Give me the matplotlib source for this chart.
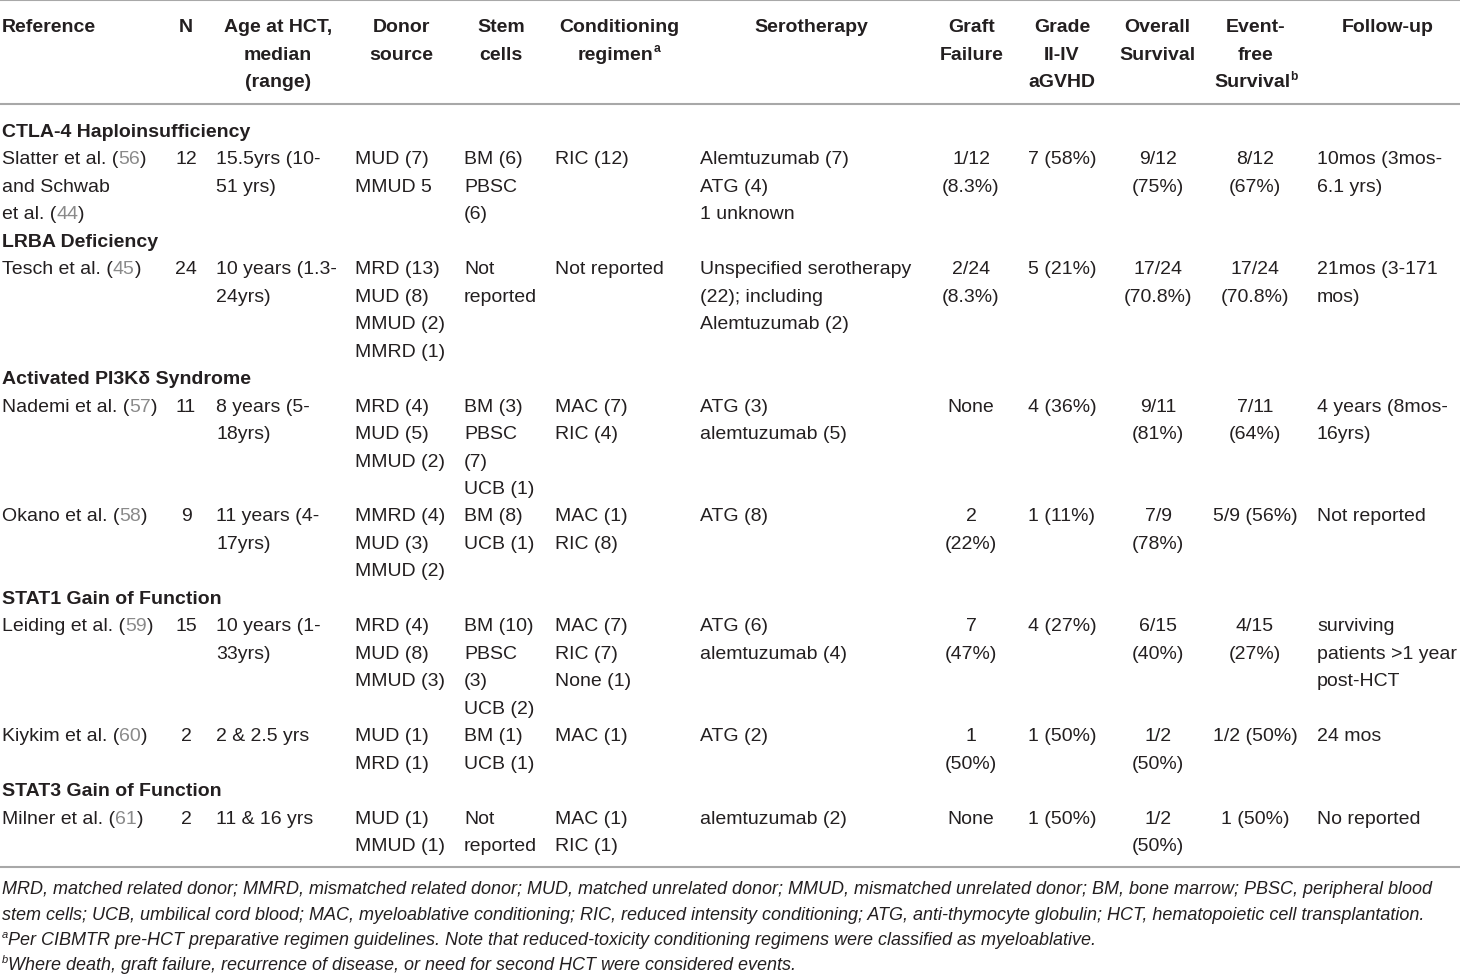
import matplotlib
matplotlib.use("Agg")
import matplotlib.pyplot as plt

# ---------------- data ----------------
header_lines = [
    ["Reference"],
    ["N"],
    ["Age at HCT,", "median", "(range)"],
    ["Donor", "source"],
    ["Stem", "cells"],
    ["Conditioning", "regimen^a"],
    ["Serotherapy"],
    ["Graft", "Failure"],
    ["Grade", "II-IV", "aGVHD"],
    ["Overall", "Survival"],
    ["Event-", "free", "Survival^b"],
    ["Follow-up"],
]

group_names = [
    "CTLA-4 Haploinsufficiency",
    "LRBA Deficiency",
    "Activated PI3K\u03b4 Syndrome",
    "STAT1 Gain of Function",
    "STAT3 Gain of Function",
]
study_group = [0, 1, 2, 2, 3, 3, 4]

references = [
    ["Slatter et al. ({56})", "and Schwab", "et al. ({44})"],
    ["Tesch et al. ({45})"],
    ["Nademi et al. ({57})"],
    ["Okano et al. ({58})"],
    ["Leiding et al. ({59})"],
    ["Kiykim et al. ({60})"],
    ["Milner et al. ({61})"],
]
n_patients = ["12", "24", "11", "9", "15", "2", "2"]
age = [["15.5yrs (10-", "51 yrs)"], ["10 years (1.3-", "24yrs)"], ["8 years (5-", "18yrs)"],
       ["11 years (4-", "17yrs)"], ["10 years (1-", "33yrs)"], ["2 & 2.5 yrs"], ["11 & 16 yrs"]]
donor = [["MUD (7)", "MMUD 5"], ["MRD (13)", "MUD (8)", "MMUD (2)", "MMRD (1)"],
         ["MRD (4)", "MUD (5)", "MMUD (2)"], ["MMRD (4)", "MUD (3)", "MMUD (2)"],
         ["MRD (4)", "MUD (8)", "MMUD (3)"], ["MUD (1)", "MRD (1)"], ["MUD (1)", "MMUD (1)"]]
stem_cells = [["BM (6)", "PBSC", "(6)"], ["Not", "reported"], ["BM (3)", "PBSC", "(7)", "UCB (1)"],
              ["BM (8)", "UCB (1)"], ["BM (10)", "PBSC", "(3)", "UCB (2)"], ["BM (1)", "UCB (1)"],
              ["Not", "reported"]]
conditioning = [["RIC (12)"], ["Not reported"], ["MAC (7)", "RIC (4)"], ["MAC (1)", "RIC (8)"],
                ["MAC (7)", "RIC (7)", "None (1)"], ["MAC (1)"], ["MAC (1)", "RIC (1)"]]
serotherapy = [["Alemtuzumab (7)", "ATG (4)", "1 unknown"],
               ["Unspecified serotherapy", "(22); including", "Alemtuzumab (2)"],
               ["ATG (3)", "alemtuzumab (5)"], ["ATG (8)"], ["ATG (6)", "alemtuzumab (4)"],
               ["ATG (2)"], ["alemtuzumab (2)"]]
graft_failure = [["1/12", "(8.3%)"], ["2/24", "(8.3%)"], ["None"], ["2", "(22%)"], ["7", "(47%)"],
                 ["1", "(50%)"], ["None"]]
agvhd = [["7 (58%)"], ["5 (21%)"], ["4 (36%)"], ["1 (11%)"], ["4 (27%)"], ["1 (50%)"], ["1 (50%)"]]
overall_survival = [["9/12", "(75%)"], ["17/24", "(70.8%)"], ["9/11", "(81%)"], ["7/9", "(78%)"],
                    ["6/15", "(40%)"], ["1/2", "(50%)"], ["1/2", "(50%)"]]
event_free = [["8/12", "(67%)"], ["17/24", "(70.8%)"], ["7/11", "(64%)"], ["5/9 (56%)"],
              ["4/15", "(27%)"], ["1/2 (50%)"], ["1 (50%)"]]
follow_up = [["10mos (3mos-", "6.1 yrs)"], ["21mos (3-171", "mos)"], ["4 years (8mos-", "16yrs)"],
             ["Not reported"], ["surviving", "patients >1 year", "post-HCT"], ["24 mos"], ["No reported"]]

footnotes = [
    "MRD, matched related donor; MMRD, mismatched related donor; MUD, matched unrelated donor; MMUD, mismatched unrelated donor; BM, bone marrow; PBSC, peripheral blood",
    "stem cells; UCB, umbilical cord blood; MAC, myeloablative conditioning; RIC, reduced intensity conditioning; ATG, anti-thymocyte globulin; HCT, hematopoietic cell transplantation.",
    "^aPer CIBMTR pre-HCT preparative regimen guidelines. Note that reduced-toxicity conditioning regimens were classified as myeloablative.",
    "^bWhere death, graft failure, recurrence of disease, or need for second HCT were considered events.",
]

# ---------------- layout / style ----------------
FONT = "Liberation Sans"
BODY_SIZE = 14.0
HEAD_SIZE = 14.0
FOOT_SIZE = 12.95
TXT = "#231f20"
GREY_REF = "#8a8a8a"
RULE = "#a8a8a8"

col_x = [2, 186, 216, 355, 464, 555, 700, 971, 1062, 1158, 1255, 1317]
col_align = ["left", "center", "left", "left", "left", "left", "left",
             "center", "center", "center", "center", "left"]
head_x = [2, 186, 278, 401, 501, 619, 811, 972, 1062, 1157, 1256, 1388]
head_align = ["left"] + ["center"] * 11

fig = plt.figure(figsize=(14.6, 9.78), dpi=100)
ax = fig.add_axes([0, 0, 1, 1])
ax.set_xlim(0, 1460)
ax.set_ylim(978, 0)
ax.axis("off")
renderer = fig.canvas.get_renderer()


def text_width(s, **kw):
    t = ax.text(0, 0, s, **kw)
    w = t.get_window_extent(renderer).width
    t.remove()
    return w


def draw_runs(x, y, runs, align="left"):
    """runs: list of (text, kwargs, yoffset)."""
    widths = [text_width(s, **kw) for s, kw, _ in runs]
    total = sum(widths)
    if align == "center":
        x0 = x - total / 2
    elif align == "right":
        x0 = x - total
    else:
        x0 = x
    for (s, kw, dy), w in zip(runs, widths):
        ax.text(x0, y + dy, s, ha="left", va="baseline", **kw)
        x0 += w


def parse_line(line, base_kw, sup_kw):
    """'^x' marks superscript char; '{..}' marks grey citation number."""
    runs = []
    buf = ""
    i = 0
    while i < len(line):
        c = line[i]
        if c == "^":
            if buf:
                runs.append((buf, base_kw, 0)); buf = ""
            runs.append((line[i + 1], sup_kw, -7))
            i += 2
            continue
        if c == "{":
            if buf:
                runs.append((buf, base_kw, 0)); buf = ""
            j = line.index("}", i)
            grey = dict(base_kw); grey["color"] = GREY_REF
            runs.append((line[i + 1:j], grey, 0))
            i = j + 1
            continue
        buf += c
        i += 1
    if buf:
        runs.append((buf, base_kw, 0))
    return runs


BASE_OFF = 6  # baseline below visual centre

body_kw = dict(family=FONT, fontsize=BODY_SIZE, color=TXT)
head_kw = dict(family=FONT, fontsize=HEAD_SIZE, color=TXT, fontweight="bold")
head_sup = dict(family=FONT, fontsize=HEAD_SIZE * 0.62, color=TXT, fontweight="bold")
foot_kw = dict(family=FONT, fontsize=FOOT_SIZE, color=TXT, style="italic")
foot_sup = dict(family=FONT, fontsize=FOOT_SIZE * 0.62, color=TXT, style="italic")

# rules
for yy in (1, 105, 868):
    ax.plot([0, 1460], [yy, yy], color=RULE, lw=1.5, solid_capstyle="butt")

# header
head_y0, head_pitch = 26, 27.5
for c, lines in enumerate(header_lines):
    for k, line in enumerate(lines):
        draw_runs(head_x[c], head_y0 + k * head_pitch + BASE_OFF,
                  parse_line(line, head_kw, head_sup), head_align[c])

# body
columns = [references, [[n] for n in n_patients], age, donor, stem_cells, conditioning,
           serotherapy, graft_failure, agvhd, overall_survival, event_free, follow_up]
y = 131.0
pitch = 27.46
prev_group = None
for r in range(len(references)):
    g = study_group[r]
    if g != prev_group:
        draw_runs(2, y + BASE_OFF, [(group_names[g], head_kw, 0)], "left")
        y += pitch
        prev_group = g
    nlines = max(len(col[r]) for col in columns)
    for c, col in enumerate(columns):
        for k, line in enumerate(col[r]):
            draw_runs(col_x[c], y + k * pitch + BASE_OFF,
                      parse_line(line, body_kw, body_kw), col_align[c])
    y += nlines * pitch

# footnotes
foot_y = [889, 915, 940, 965]
for fy, line in zip(foot_y, footnotes):
    draw_runs(2, fy + 5, parse_line(line, foot_kw, foot_sup), "left")

fig.savefig("out.png", dpi=100, facecolor="white")
